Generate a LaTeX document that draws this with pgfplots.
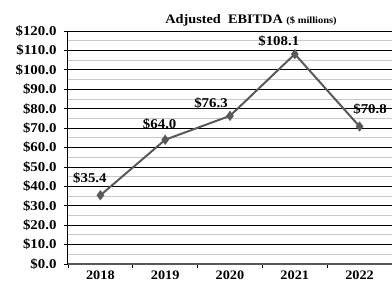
\documentclass[border=0pt]{standalone}
\usepackage{fontspec}
\setmainfont{Liberation Serif}[FakeStretch=1.1]
\usepackage{pgfplots}
\pgfplotsset{compat=1.18}
\definecolor{linegray}{HTML}{595959}
\definecolor{minorgray}{HTML}{C8C8C8}
\begin{document}
\begin{tikzpicture}
\begin{axis}[
  at={(0,0)}, anchor=south west,
  scale only axis, width=324pt, height=233pt,
  xmin=0.5, xmax=5.5, ymin=0, ymax=120,
  axis x line*=bottom, axis y line*=left,
  axis line style={-},
  x axis line style={draw=linegray, line width=2pt},
  y axis line style={draw=black, line width=1pt},
  tick align=outside,
  xtick={0.5,1.5,2.5,3.5,4.5}, xticklabels={},
  major tick length=4pt,
  extra x ticks={1,2,3,4,5},
  extra x tick labels={2018,2019,2020,2021,2022},
  extra x tick style={major tick length=0pt, grid=none},
  ytick={0,10,...,120}, minor ytick={5,15,...,115},
  minor tick length=0pt,
  ymajorgrids, yminorgrids,
  major grid style={black, line width=0.8pt},
  minor grid style={minorgray, line width=0.9pt},
  tick style={black, line width=0.8pt},
  /pgf/number format/assume math mode=true,
  yticklabel={\$\pgfmathprintnumber[fixed,fixed zerofill,precision=1]{\tick}},
  yticklabel style={font=\fontsize{13.5}{15}\selectfont\bfseries, xshift=-4pt},
  xticklabel style={font=\fontsize{13}{14}\selectfont\bfseries, yshift=-3pt},
  clip=false,
]
\addplot[color=linegray, line width=2pt, mark=diamond*, mark size=3.5pt,
  mark options={fill=linegray, draw=linegray}]
  coordinates {(1,35.4) (2,64.0) (3,76.3) (4,108.1) (5,70.8)};
\begin{scope}[every node/.style={font=\fontsize{13.5}{15}\selectfont\bfseries, anchor=center, inner sep=0pt}]
\node[xshift=-10.5pt, yshift=17pt] at (axis cs:1,35.4) {\$35.4};
\node[xshift=-5.5pt, yshift=16pt] at (axis cs:2,64.0) {\$64.0};
\node[xshift=-19pt, yshift=13pt] at (axis cs:3,76.3) {\$76.3};
\node[xshift=-16pt, yshift=12.5pt] at (axis cs:4,108.1) {\$108.1};
\node[xshift=10.5pt, yshift=17pt] at (axis cs:5,70.8) {\$70.8};
\end{scope}
\end{axis}
\node[anchor=base, inner sep=0pt] at (183pt,241pt) {\fontsize{13}{15}\selectfont\bfseries Adjusted\ \ EBITDA \fontsize{9.5}{11}\selectfont(\$ millions)};
\pgfresetboundingbox
\path[use as bounding box] (-68pt,-21pt) rectangle (324pt,264pt);
\end{tikzpicture}
\end{document}
